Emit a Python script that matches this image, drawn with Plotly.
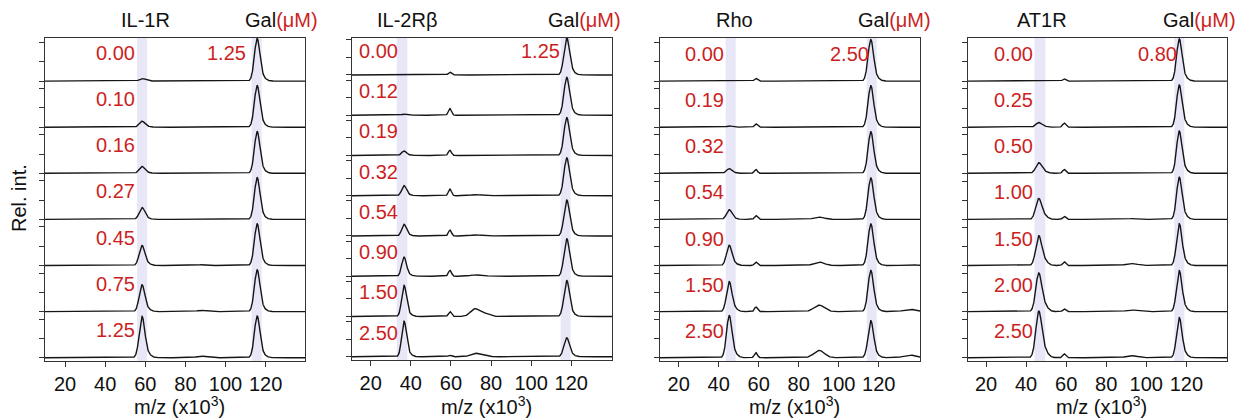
import numpy as np
import plotly.graph_objects as go

W, H = 1249, 419

# ---------------- data ----------------
# IL-1R panel
IL1R_CONC = ["0.00", "0.10", "0.16", "0.27", "0.45", "0.75", "1.25"]
IL1R_GAL_CONC = "1.25"
IL1R_POS = {"prot": 58.3, "gal": 115.7, "b87": 88.0}
IL1R_PROT_H = [0.06, 0.14, 0.16, 0.28, 0.47, 0.63, 0.97]
IL1R_GAL_H = [1.02, 1.00, 1.00, 1.00, 1.00, 1.00, 1.00]
IL1R_B87_H = [0.00, 0.00, 0.00, 0.00, 0.02, 0.03, 0.04]
IL1R_BANDS = [(55.9, 60.9), (113.0, 118.0)]

# IL-2Rbeta panel
IL2RB_CONC = ["0.00", "0.12", "0.19", "0.32", "0.54", "0.90", "1.50", "2.50"]
IL2RB_GAL_CONC = "1.25"
IL2RB_POS = {"prot": 36.6, "p58": 59.5, "b71": 72.0, "b76": 77.0, "gal": 117.7}
IL2RB_PROT_H = [0.00, 0.03, 0.12, 0.27, 0.31, 0.51, 0.83, 0.95]
IL2RB_P58_H = [0.08, 0.19, 0.15, 0.19, 0.17, 0.17, 0.14, 0.04]
IL2RB_B71_H = [0.00, 0.00, 0.01, 0.03, 0.03, 0.04, 0.22, 0.10]
IL2RB_B76_H = [0.00, 0.00, 0.00, 0.01, 0.01, 0.01, 0.08, 0.02]
IL2RB_GAL_H = [0.98, 1.00, 1.00, 1.00, 0.95, 0.99, 0.95, 0.50]
IL2RB_BANDS = [(33.0, 38.3), (114.7, 119.7)]

# Rho panel
RHO_CONC = ["0.00", "0.19", "0.32", "0.54", "0.90", "1.50", "2.50"]
RHO_GAL_CONC = "2.50"
RHO_POS = {"prot": 45.2, "p58": 58.6, "b89": 90.2, "b135": 135.6, "gal": 116.0}
RHO_PROT_H = [0.00, 0.03, 0.11, 0.23, 0.48, 0.71, 1.00]
RHO_P58_H = [0.07, 0.09, 0.10, 0.10, 0.09, 0.12, 0.13]
RHO_B89_H = [0.00, 0.00, 0.01, 0.06, 0.09, 0.17, 0.19]
RHO_B135_H = [0.00, 0.00, 0.00, 0.00, 0.02, 0.06, 0.07]
RHO_GAL_H = [1.00, 1.00, 1.00, 1.00, 1.00, 0.99, 0.89]
RHO_BANDS = [(43.5, 48.5), (114.0, 119.0)]

# AT1R panel
AT1R_CONC = ["0.00", "0.25", "0.50", "1.00", "1.50", "2.00", "2.50"]
AT1R_GAL_CONC = "0.80"
AT1R_POS = {"prot": 46.2, "p58": 59.0, "b92": 92.8, "gal": 116.4}
AT1R_PROT_H = [0.00, 0.10, 0.23, 0.45, 0.64, 0.83, 1.00]
AT1R_P58_H = [0.06, 0.11, 0.10, 0.08, 0.10, 0.07, 0.10]
AT1R_B92_H = [0.00, 0.00, 0.00, 0.02, 0.05, 0.04, 0.05]
AT1R_GAL_H = [1.00, 1.00, 1.00, 1.00, 0.99, 0.97, 0.95]
AT1R_BANDS = [(44.2, 49.6), (114.0, 119.0)]

PANEL_TITLES = ["IL-1R", "IL-2Rβ", "Rho", "AT1R"]
X_TICKS = [20, 40, 60, 80, 100, 120]


def gauss(x, mu, h, s):
    return h * np.exp(-0.5 * ((x - mu) / s) ** 2)


def peak(x, mu, h, s, tail=0.0):
    y = gauss(x, mu, h, s)
    if tail:
        y = y + gauss(x, mu + 1.8, h * tail, s * 1.5)
    return y


def spectra_il1r(x):
    out = []
    for i in range(len(IL1R_CONC)):
        y = (peak(x, IL1R_POS["prot"], IL1R_PROT_H[i], 1.35, 0.15)
             + peak(x, IL1R_POS["gal"], IL1R_GAL_H[i], 1.35, 0.12)
             + gauss(x, IL1R_POS["b87"], IL1R_B87_H[i], 2.5))
        out.append(y)
    return out


def spectra_il2rb(x):
    out = []
    for i in range(len(IL2RB_CONC)):
        y = (peak(x, IL2RB_POS["prot"], IL2RB_PROT_H[i], 1.15, 0.12)
             + gauss(x, IL2RB_POS["p58"], IL2RB_P58_H[i], 0.75)
             + gauss(x, IL2RB_POS["b71"], IL2RB_B71_H[i], 2.2)
             + gauss(x, IL2RB_POS["b76"], IL2RB_B76_H[i], 2.0)
             + peak(x, IL2RB_POS["gal"], IL2RB_GAL_H[i], 1.35, 0.12))
        out.append(y)
    return out


def spectra_rho(x):
    out = []
    for i in range(len(RHO_CONC)):
        y = (peak(x, RHO_POS["prot"], RHO_PROT_H[i], 1.3, 0.15)
             + gauss(x, RHO_POS["p58"], RHO_P58_H[i], 0.75)
             + gauss(x, RHO_POS["b89"], RHO_B89_H[i], 2.6)
             + gauss(x, RHO_POS["b135"], RHO_B135_H[i], 3.0)
             + peak(x, RHO_POS["gal"], RHO_GAL_H[i], 1.35, 0.12))
        out.append(y)
    return out


def spectra_at1r(x):
    out = []
    for i in range(len(AT1R_CONC)):
        y = (peak(x, AT1R_POS["prot"], AT1R_PROT_H[i], 1.4, 0.3)
             + gauss(x, AT1R_POS["p58"], AT1R_P58_H[i], 0.75)
             + gauss(x, AT1R_POS["b92"], AT1R_B92_H[i], 3.0)
             + peak(x, AT1R_POS["gal"], AT1R_GAL_H[i], 1.3, 0.15))
        out.append(y)
    return out


# ---------------- layout configuration (pixels) ----------------
PANELS = [
    dict(left=45, right=305, top=38, bottom=361, xr=[10.0, 139.6], ppu=38.6, pitch=46.1,
         conc=IL1R_CONC, gal=IL1R_GAL_CONC, spec=spectra_il1r, bands=IL1R_BANDS,
         lab_x=55.8, lab_dy=28, gal_x=111.4, title_x=145, galtitle_r=320),
    dict(left=352, right=612, top=38, bottom=360, xr=[10.7, 140.3], ppu=35.0, pitch=40.25,
         conc=IL2RB_CONC, gal=IL2RB_GAL_CONC, spec=spectra_il2rb, bands=IL2RB_BANDS,
         lab_x=34.7, lab_dy=24, gal_x=115.2, title_x=407, galtitle_r=623),
    dict(left=660, right=920, top=38, bottom=361, xr=[10.65, 140.65], ppu=38.4, pitch=46.1,
         conc=RHO_CONC, gal=RHO_GAL_CONC, spec=spectra_rho, bands=RHO_BANDS,
         lab_x=43.6, lab_dy=27, gal_x=116.2, title_x=734, galtitle_r=933),
    dict(left=968, right=1227, top=38, bottom=361, xr=[11.0, 140.3], ppu=38.4, pitch=46.1,
         conc=AT1R_CONC, gal=AT1R_GAL_CONC, spec=spectra_at1r, bands=AT1R_BANDS,
         lab_x=44.6, lab_dy=27, gal_x=116.4, title_x=1042, galtitle_r=1238),
]

FONT = "Liberation Sans, Arial, Helvetica, sans-serif"
RED = "#cc1f1f"
LINE = "#151515"
FRAME = "#333333"
BAND = "#e7e7f7"

fig = go.Figure()
shapes = []
annotations = []

for k, p in enumerate(PANELS):
    idx = "" if k == 0 else str(k + 1)
    xa, ya = "x" + idx, "y" + idx
    n = len(p["conc"])
    D = p["pitch"] / p["ppu"]
    ymin = -3.3 / p["ppu"]
    ymax = ymin + (p["bottom"] - p["top"]) / p["ppu"]

    x = np.linspace(p["xr"][0], p["xr"][1], 1400)
    specs = p["spec"](x)
    tickvals = []
    for r, y in enumerate(specs):
        base = (n - 1 - r) * D
        fig.add_trace(go.Scatter(x=x, y=y + base, mode="lines", xaxis=xa, yaxis=ya,
                                 line=dict(color=LINE, width=1.4), showlegend=False,
                                 hoverinfo="skip"))
        tickvals += [base, base + 0.5, base + 1.0]
        annotations.append(dict(x=p["lab_x"], y=base + p["lab_dy"] / p["ppu"], xref=xa, yref=ya,
                                text=p["conc"][r], showarrow=False, xanchor="right",
                                yanchor="middle", font=dict(family=FONT, size=20, color=RED)))
        if r == 0:
            annotations.append(dict(x=p["gal_x"], y=base + p["lab_dy"] / p["ppu"], xref=xa, yref=ya,
                                    text=p["gal"], showarrow=False, xanchor="right",
                                    yanchor="middle", font=dict(family=FONT, size=20, color=RED)))

    for (b0, b1) in p["bands"]:
        shapes.append(dict(type="rect", xref=xa, yref=ya + " domain", x0=b0, x1=b1, y0=0, y1=1,
                           fillcolor=BAND, line=dict(width=0), layer="below"))

    dom_x = [p["left"] / W, p["right"] / W]
    dom_y = [1 - p["bottom"] / H, 1 - p["top"] / H]
    fig.layout["xaxis" + idx] = dict(
        domain=dom_x, range=p["xr"], anchor=ya, tickvals=X_TICKS, ticks="outside", ticklen=5,
        tickwidth=1, tickcolor=FRAME, showline=True, linecolor=FRAME, linewidth=1.2, mirror=True,
        showgrid=False, zeroline=False, tickfont=dict(family=FONT, size=20, color="#111"))
    fig.layout["yaxis" + idx] = dict(
        domain=dom_y, range=[ymin, ymax], anchor=xa, tickvals=tickvals, ticks="outside",
        ticklen=5, tickwidth=1, tickcolor=FRAME, showticklabels=False, showline=True,
        linecolor=FRAME, linewidth=1.2, mirror=True, showgrid=False, zeroline=False)

    # panel titles
    annotations.append(dict(x=p["title_x"] / W, y=1 - 20 / H, xref="paper", yref="paper",
                            text=PANEL_TITLES[k], showarrow=False, xanchor="center",
                            yanchor="middle", font=dict(family=FONT, size=20, color="#111")))
    annotations.append(dict(x=p["galtitle_r"] / W, y=1 - 20 / H, xref="paper", yref="paper",
                            text="Gal<span style='color:%s'>(μM)</span>" % RED, showarrow=False,
                            xanchor="right", yanchor="middle",
                            font=dict(family=FONT, size=20, color="#111")))
    # x axis title
    annotations.append(dict(x=((p["left"] + p["right"]) / 2 + 4) / W, y=1 - 405 / H,
                            xref="paper", yref="paper", text="m/z (x10<sup>3</sup>)",
                            showarrow=False, xanchor="center", yanchor="middle",
                            font=dict(family=FONT, size=20, color="#111")))

annotations.append(dict(x=19 / W, y=1 - 198 / H, xref="paper", yref="paper", text="Rel. int.",
                        textangle=-90, showarrow=False, xanchor="center", yanchor="middle",
                        font=dict(family=FONT, size=20, color="#111")))

fig.update_layout(width=W, height=H, margin=dict(l=0, r=0, t=0, b=0),
                  paper_bgcolor="white", plot_bgcolor="white",
                  shapes=shapes, annotations=annotations)

fig.write_html("out.html", config={"displayModeBar": False},
               post_script="document.body.style.margin='0px';document.body.style.padding='0px';")
